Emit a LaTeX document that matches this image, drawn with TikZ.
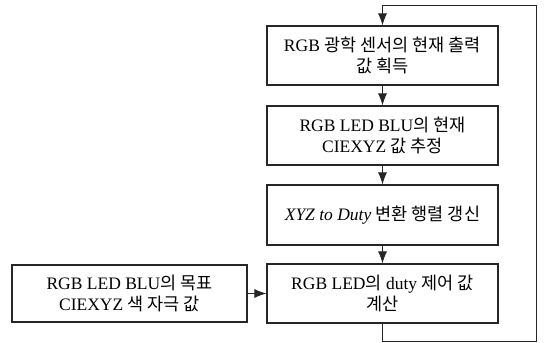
\documentclass[tikz,border=0pt]{standalone}
\usepackage{fontspec}
\setmainfont{Liberation Serif}
\newfontfamily\krfont{Noto Sans CJK KR}
\newcommand\kr[1]{{\krfont #1}}
\usetikzlibrary{arrows.meta}
\begin{document}
\begin{tikzpicture}[x=1pt,y=-1pt,
  box/.style={draw=black!85, line width=1.1pt, minimum height=59pt, minimum width=231pt,
    align=center, inner sep=2pt, font=\fontsize{17.5}{21}\selectfont},
  conn/.style={line width=1pt, draw=black!85},
  arr/.style={conn, -{Latex[length=12pt,width=9pt]}}]
\useasboundingbox (0,0) rectangle (544,343);
\node[box] (b1) at (382.5,55.5) {RGB \kr{광학 센서의 현재 출력}\\\kr{값 획득}};
\node[box] (b2) at (382.5,135.5) {RGB LED BLU\kr{의 현재}\\CIEXYZ \kr{값 추정}};
\node[box, minimum height=60pt] (b3) at (382.5,215) {\textit{XYZ to Duty} \kr{변환 행렬 갱신}};
\node[box] (b4) at (382.5,293.5) {RGB LED\kr{의} duty \kr{제어 값}\\\kr{계산}};
\node[box, minimum width=235pt, minimum height=57pt] (t) at (129.5,293.5) {RGB LED BLU\kr{의 목표}\\CIEXYZ \kr{색 자극 값}};
\coordinate (c1) at (382.5,341);
\coordinate (c2) at (536,341);
\coordinate (c3) at (536,5);
\coordinate (c4) at (382.5,5);
\draw[arr] (b1) -- (b2);
\draw[arr] (b2) -- (b3);
\draw[arr] (b3) -- (b4);
\draw[arr] (t) -- (b4);
\draw[arr] (b4.south) -- (c1) -- (c2) -- (c3) -- (c4) -- (b1.north);
\end{tikzpicture}
\end{document}
